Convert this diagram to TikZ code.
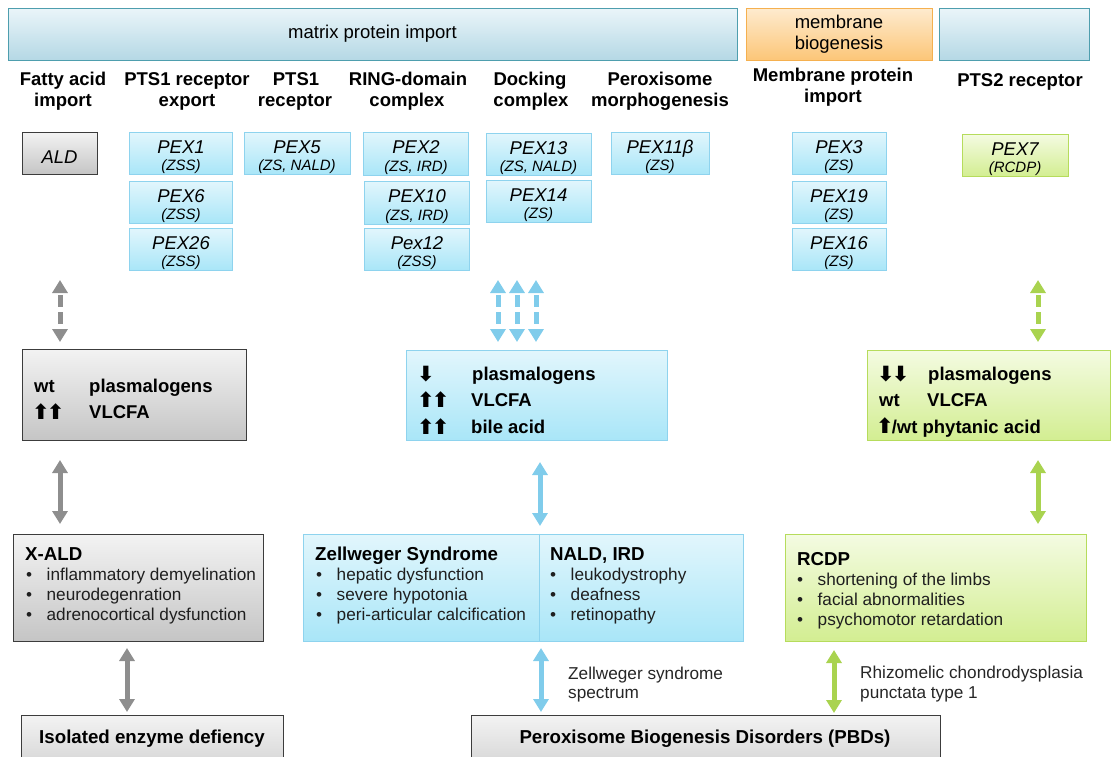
\documentclass[tikz,border=0pt]{standalone}
\usepackage{fontspec}
\setmainfont{Liberation Sans}
\newfontfamily\dejavu{DejaVu Sans}
\usetikzlibrary{arrows.meta}
\newcommand{\FS}[2]{\fontsize{#1}{#2}\selectfont}
\newcommand{\Bul}[1]{\makebox[20.5pt][l]{\textbullet}#1}
\newcommand{\Up}{{\dejavu\fontsize{21}{21}\selectfont ⬆}}
\newcommand{\Dn}{{\dejavu\fontsize{21}{21}\selectfont ⬇}}
\newcommand{\Lo}{\rule{0pt}{21pt}}
\definecolor{bluetop}{HTML}{E2F6FC}
\definecolor{bluebot}{HTML}{A9E6F8}
\definecolor{blueline}{HTML}{8ED3EE}
\definecolor{bluearrow}{HTML}{80CCEB}
\definecolor{bartop}{HTML}{EAF5F9}
\definecolor{barbot}{HTML}{B5D8E5}
\definecolor{barline}{HTML}{4E9EAE}
\definecolor{orgtop}{HTML}{FEEBCF}
\definecolor{orgbot}{HTML}{FCC678}
\definecolor{orgline}{HTML}{F5B04F}
\definecolor{graytop}{HTML}{F3F3F3}
\definecolor{graybot}{HTML}{C5C5C5}
\definecolor{grayline}{HTML}{3C3C3C}
\definecolor{grayarrow}{HTML}{8E8E8E}
\definecolor{greentop}{HTML}{F4FBE2}
\definecolor{greenbot}{HTML}{D3EE92}
\definecolor{greenline}{HTML}{B6DC5C}
\definecolor{greenarrow}{HTML}{A9D34F}
\tikzset{
  bar/.style={draw=barline, line width=1pt, top color=bartop, bottom color=barbot, inner sep=0},
  obar/.style={draw=orgline, line width=1pt, top color=orgtop, bottom color=orgbot, inner sep=0},
  bbox/.style={draw=blueline, line width=0.9pt, top color=bluetop, bottom color=bluebot, inner sep=0},
  gbox/.style={draw=grayline, line width=0.9pt, top color=graytop, bottom color=graybot, inner sep=0},
  lbox/.style={draw=greenline, line width=0.9pt, top color=greentop, bottom color=greenbot, inner sep=0},
  pex/.style={font=\FS{18.5}{17.5}\itshape, align=center},
  hdr/.style={font=\FS{18.5}{21}\bfseries, anchor=base, inner sep=0},
  mtx/.style={font=\FS{18.5}{20}\bfseries, anchor=base west, inner sep=0},
  ttl/.style={font=\FS{18.7}{20}\bfseries, anchor=base west, inner sep=0},
  itm/.style={font=\FS{17.2}{20}, anchor=base west, inner sep=0, text=black!88},
  lbl/.style={font=\FS{17.2}{20}, anchor=base west, inner sep=0, text=black!85},
  dbl/.style={line width=5pt, {Triangle[width=15pt,length=13pt]}-{Triangle[width=15pt,length=13pt]}},
  ddbl/.style={dbl, dash pattern=on 12pt off 5pt, dash phase=14pt},
}
\begin{document}
\begin{tikzpicture}[x=1pt,y=-1pt]
\useasboundingbox (0,0) rectangle (1111,756);
% top bars
\node[bar, minimum width=729, minimum height=52, font=\FS{18.5}{22}] (matrix) at (372.5,34) {matrix protein import};
\node[obar, minimum width=186, minimum height=52, font=\FS{18.5}{21}, align=center] (memb) at (839,34) {membrane\\biogenesis};
\node[bar, minimum width=150, minimum height=52] (pts2bar) at (1014,34) {};
% headers
\node[hdr] (h1a) at (63,85) {Fatty acid};
\node[hdr] (h1b) at (63,106) {import};
\node[hdr] (h2a) at (187,85) {PTS1 receptor};
\node[hdr] (h2b) at (187,106) {export};
\node[hdr] (h3a) at (296,85) {PTS1};
\node[hdr] (h3b) at (295,106) {receptor};
\node[hdr] (h4a) at (408,85) {RING-domain};
\node[hdr] (h4b) at (407,106) {complex};
\node[hdr] (h5a) at (530,85) {Docking};
\node[hdr] (h5b) at (531,106) {complex};
\node[hdr] (h6a) at (660,85) {Peroxisome};
\node[hdr] (h6b) at (660,106) {morphogenesis};
\node[hdr] (h7a) at (833,81) {Membrane protein};
\node[hdr] (h7b) at (833,102) {import};
\node[hdr] (h8a) at (1020,86) {PTS2 receptor};
% gene boxes
\node[gbox, pex, minimum width=75, minimum height=42] (ald) at (59.5,153) {\Lo ALD};
\node[bbox, pex, minimum width=103, minimum height=42] (pex1) at (181,153) {\Lo PEX1\\{\FS{15}{17}(ZSS)}};
\node[bbox, pex, minimum width=103, minimum height=42] (pex6) at (181,202) {\Lo PEX6\\{\FS{15}{17}(ZSS)}};
\node[bbox, pex, minimum width=103, minimum height=42] (pex26) at (181,249) {\Lo PEX26\\{\FS{15}{17}(ZSS)}};
\node[bbox, pex, minimum width=106, minimum height=42] (pex5) at (297,153) {\Lo PEX5\\{\FS{15}{17}(ZS, NALD)}};
\node[bbox, pex, minimum width=105, minimum height=43] (pex2) at (416,153.5) {\Lo PEX2\\{\FS{15}{17}(ZS, IRD)}};
\node[bbox, pex, minimum width=105, minimum height=43] (pex10) at (417,202.5) {\Lo PEX10\\{\FS{15}{17}(ZS, IRD)}};
\node[bbox, pex, minimum width=105, minimum height=42] (pex12) at (417,249) {\Lo Pex12\\{\FS{15}{17}(ZSS)}};
\node[bbox, pex, minimum width=105, minimum height=42] (pex13) at (538.5,154) {\Lo PEX13\\{\FS{15}{17}(ZS, NALD)}};
\node[bbox, pex, minimum width=105, minimum height=42] (pex14) at (538.5,201) {\Lo PEX14\\{\FS{15}{17}(ZS)}};
\node[bbox, pex, minimum width=98, minimum height=42] (pex11) at (660,153) {\Lo PEX11β\\{\FS{15}{17}(ZS)}};
\node[bbox, pex, minimum width=94, minimum height=42] (pex3) at (839,153) {\Lo PEX3\\{\FS{15}{17}(ZS)}};
\node[bbox, pex, minimum width=94, minimum height=42] (pex19) at (839,202) {\Lo PEX19\\{\FS{15}{17}(ZS)}};
\node[bbox, pex, minimum width=94, minimum height=42] (pex16) at (839,249) {\Lo PEX16\\{\FS{15}{17}(ZS)}};
\node[lbox, pex, minimum width=106, minimum height=42] (pex7) at (1015,155) {\Lo PEX7\\{\FS{15}{17}(RCDP)}};
% metabolite boxes
\node[gbox, minimum width=224, minimum height=91] (mgray) at (134,394.5) {};
\node[bbox, minimum width=261, minimum height=90] (mblue) at (536.5,395) {};
\node[lbox, minimum width=243, minimum height=90] (mgreen) at (988.5,395) {};
\node[mtx] (g1a) at (34,392) {wt};
\node[mtx] (g1b) at (89,392) {plasmalogens};
\node[mtx] (g2a) at (32,419) {\Up\kern-3pt\Up};
\node[mtx] (g2b) at (89,418) {VLCFA};
\node[mtx] (b1a) at (417,381) {\Dn};
\node[mtx] (b1b) at (472,380) {plasmalogens};
\node[mtx] (b2a) at (417,407) {\Up\kern-3pt\Up};
\node[mtx] (b2b) at (471,406) {VLCFA};
\node[mtx] (b3a) at (417,434) {\Up\kern-3pt\Up};
\node[mtx] (b3b) at (471,433) {bile acid};
\node[mtx] (l1a) at (877,381) {\Dn\kern-3pt\Dn};
\node[mtx] (l1b) at (928,380) {plasmalogens};
\node[mtx] (l2a) at (879,406) {wt};
\node[mtx] (l2b) at (927,406) {VLCFA};
\node[mtx] (l3a) at (876,433) {\Up\kern-2pt/wt phytanic acid};
% disease boxes
\node[gbox, minimum width=250, minimum height=107] (xald) at (138,587.5) {};
\node[bbox, minimum width=440, minimum height=107] (zs) at (523,587.5) {};
\draw[blueline, line width=0.9pt] (zs.north -| 539,0) coordinate (divt) -- (zs.south -| 539,0) coordinate (divb);
\node[lbox, minimum width=301, minimum height=107] (rcdp) at (935.5,587.5) {};
\node[ttl] (xt) at (25,560) {X-ALD};
\node[itm] (x1) at (26,580) {\Bul{inflammatory demyelination}};
\node[itm] (x2) at (26,600) {\Bul{neurodegenration}};
\node[itm] (x3) at (26,620) {\Bul{adrenocortical dysfunction}};
\node[ttl] (zt) at (315,560) {Zellweger Syndrome};
\node[itm] (z1) at (316,580) {\Bul{hepatic dysfunction}};
\node[itm] (z2) at (316,600) {\Bul{severe hypotonia}};
\node[itm] (z3) at (316,620) {\Bul{peri-articular calcification}};
\node[ttl] (nt) at (550,560) {NALD, IRD};
\node[itm] (n1) at (550,580) {\Bul{leukodystrophy}};
\node[itm] (n2) at (550,600) {\Bul{deafness}};
\node[itm] (n3) at (550,620) {\Bul{retinopathy}};
\node[ttl] (rt) at (797,565) {RCDP};
\node[itm] (r1) at (797,585) {\Bul{shortening of the limbs}};
\node[itm] (r2) at (797,605) {\Bul{facial abnormalities}};
\node[itm] (r3) at (797,625) {\Bul{psychomotor retardation}};
% bottom boxes
\node[gbox, minimum width=262, minimum height=80] (iso) at (152,755) {};
\node[gbox, minimum width=469, minimum height=80] (pbd) at (705.5,755) {};
\node[font=\FS{18.7}{20}\bfseries, anchor=base, inner sep=0] (isot) at (152,743) {Isolated enzyme defiency};
\node[font=\FS{18.7}{20}\bfseries, anchor=base, inner sep=0] (pbdt) at (705,743) {Peroxisome Biogenesis Disorders (PBDs)};
\node[lbl] (zsl1) at (568,679) {Zellweger syndrome};
\node[lbl] (zsl2) at (568,698) {spectrum};
\node[lbl] (rl1) at (860,678) {Rhizomelic chondrodysplasia};
\node[lbl] (rl2) at (860,698) {punctata type 1};
% arrow end points
\coordinate (a1t) at (60,280); \coordinate (a1b) at (60,342);
\coordinate (a2t) at (498,280); \coordinate (a2b) at (498,342);
\coordinate (a3t) at (517,280); \coordinate (a3b) at (517,342);
\coordinate (a4t) at (536,280); \coordinate (a4b) at (536,342);
\coordinate (a5t) at (1038,280); \coordinate (a5b) at (1038,342);
\coordinate (a6t) at (60,460); \coordinate (a6b) at (60,524);
\coordinate (a7t) at (540,462); \coordinate (a7b) at (540,526);
\coordinate (a8t) at (1038,460); \coordinate (a8b) at (1038,524);
\coordinate (a9t) at (127,648); \coordinate (a9b) at (127,712);
\coordinate (a10t) at (541,648); \coordinate (a10b) at (541,712);
\coordinate (a11t) at (834,650); \coordinate (a11b) at (834,713);
\draw[ddbl, grayarrow] (a1t) -- (a1b);
\draw[ddbl, bluearrow] (a2t) -- (a2b);
\draw[ddbl, bluearrow] (a3t) -- (a3b);
\draw[ddbl, bluearrow] (a4t) -- (a4b);
\draw[ddbl, greenarrow] (a5t) -- (a5b);
\draw[dbl, grayarrow] (a6t) -- (a6b);
\draw[dbl, bluearrow] (a7t) -- (a7b);
\draw[dbl, greenarrow] (a8t) -- (a8b);
\draw[dbl, grayarrow] (a9t) -- (a9b);
\draw[dbl, bluearrow] (a10t) -- (a10b);
\draw[dbl, greenarrow] (a11t) -- (a11b);
\end{tikzpicture}
\end{document}
